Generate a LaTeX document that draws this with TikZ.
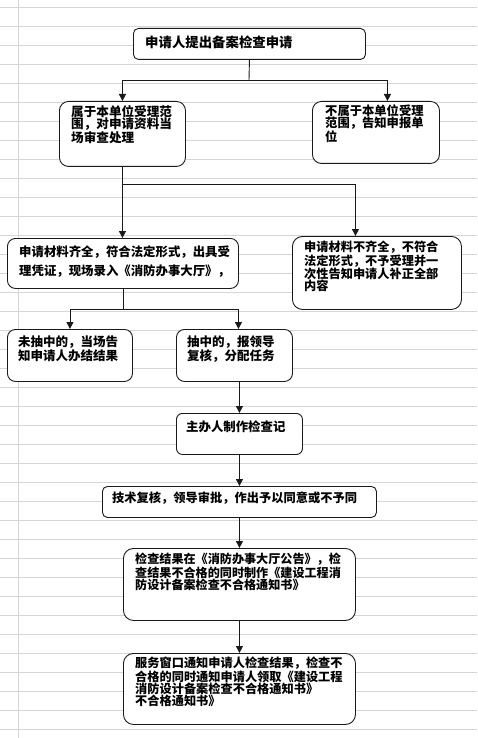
\documentclass[tikz,border=0pt]{standalone}
\usepackage{fontspec}
\newfontfamily\cjk{Noto Sans CJK SC}
\usetikzlibrary{arrows.meta,calc}
\definecolor{gridc}{HTML}{D6D6D6}
\definecolor{linec}{HTML}{1A1A1A}
\tikzset{
  box/.style={draw=linec, fill=white, line width=0.9pt, rounded corners=#1, inner sep=0pt, anchor=north west},
  box/.default=8pt,
  txt/.style 2 args={anchor=north west, inner sep=0pt, align=left,
    font={\cjk\bfseries\fontsize{#1}{#2}\selectfont}},
  conn/.style={draw=linec, line width=0.9pt},
  arr/.style={conn, -{Triangle[length=7pt,width=7pt]}},
  gridline/.style={draw=gridc, line width=0.8pt}
}
\begin{document}
\begin{tikzpicture}[x=1pt,y=-1pt]
\useasboundingbox (0,0) rectangle (477,738);
% spreadsheet grid
\foreach \k in {0,...,38} {\draw[gridline] (0,7+19*\k) -- (477,7+19*\k);}
\draw[gridline] (18,0) -- (18,738);

% boxes
\node[box=5pt, minimum width=232pt, minimum height=31pt] (b1) at (133,28) {};
\node[box=9pt, minimum width=126pt, minimum height=65pt] (b2) at (59,101) {};
\node[box=9pt, minimum width=127pt, minimum height=62pt] (b3) at (312,101) {};
\node[box=8pt, minimum width=231pt, minimum height=50pt] (b4) at (7,238) {};
\node[box=10pt, minimum width=169pt, minimum height=73pt] (b5) at (292,236) {};
\node[box=8pt, minimum width=125pt, minimum height=52pt] (b6) at (7,329) {};
\node[box=8pt, minimum width=116pt, minimum height=52pt] (b7) at (176,329) {};
\node[box=6pt, minimum width=126pt, minimum height=41pt] (b8) at (176,413) {};
\node[box=5pt, minimum width=274pt, minimum height=31pt] (b9) at (102,486) {};
\node[box=10pt, minimum width=232pt, minimum height=72pt] (b10) at (123,548) {};
\node[box=10pt, minimum width=232pt, minimum height=71pt] (b11) at (123,653) {};

% texts
\node[txt={13.4}{14}] (t1) at (145,36) {申请人提出备案检查申请};
\node[txt={12.6}{12}] (t2) at (71,105) {属于本单位受理范\\围，对申请资料当\\场审查处理};
\node[txt={12.3}{12}] (t3) at (325,105) {不属于本单位受理\\范围，告知申报单\\位};
\node[txt={12.4}{18.5}] (t4) at (19,246) {申请材料齐全，符合法定形式，出具受\\理凭证，现场录入《消防办事大厅》，};
\node[txt={12.2}{12}] (t5) at (304,241) {申请材料不齐全，不符合\\法定形式，不予受理并一\\次性告知申请人补正全部\\内容};
\node[txt={12.5}{12}] (t6) at (18,336) {未抽中的，当场告\\知申请人办结结果};
\node[txt={12.5}{12}] (t7) at (187,336) {抽中的，报领导\\复核，分配任务};
\node[txt={12.4}{12}] (t8) at (186,421) {主办人制作检查记};
\node[txt={12.25}{12}] (t9) at (112,492) {技术复核，领导审批，作出予以同意或不予同};
\node[txt={12.1}{12}] (t10) at (135,553) {检查结果在《消防办事大厅公告》，检\\查结果不合格的同时制作《建设工程消\\防设计备案检查不合格通知书》};
\node[txt={12.2}{12}] (t11) at (135,657) {服务窗口通知申请人检查结果，检查不\\合格的同时通知申请人领取《建设工程\\消防设计备案检查不合格通知书》\\不合格通知书》};

% connectors
\coordinate (j1) at (249,80);
\draw[conn] (b1.south) -- (j1);
\draw[arr] (j1) -| (b2.north);
\draw[arr] (j1) -| ([xshift=11.5pt]b3.north);

\coordinate (j2) at ($(b2.south)+(0,18)$);
\draw[arr] (b2.south) -- (b4.north -| b2.south);
\draw[arr] (j2) -| ([xshift=-21.5pt]b5.north);

\coordinate (j3) at ($(b4.south)+(0,21)$);
\draw[conn] (b4.south) -- (j3);
\draw[arr] (j3) -| (b6.north);
\draw[arr] (j3) -| ([xshift=4pt]b7.north);

\draw[arr] (b8.north |- b7.south) -- (b8.north);
\draw[arr] (b8.south) -- (b9.north -| b8.south);
\draw[arr] (b9.south -| b8.south) -- (b10.north -| b8.south);
\draw[arr] (b10.south -| b8.south) -- (b11.north -| b8.south);
\end{tikzpicture}
\end{document}
